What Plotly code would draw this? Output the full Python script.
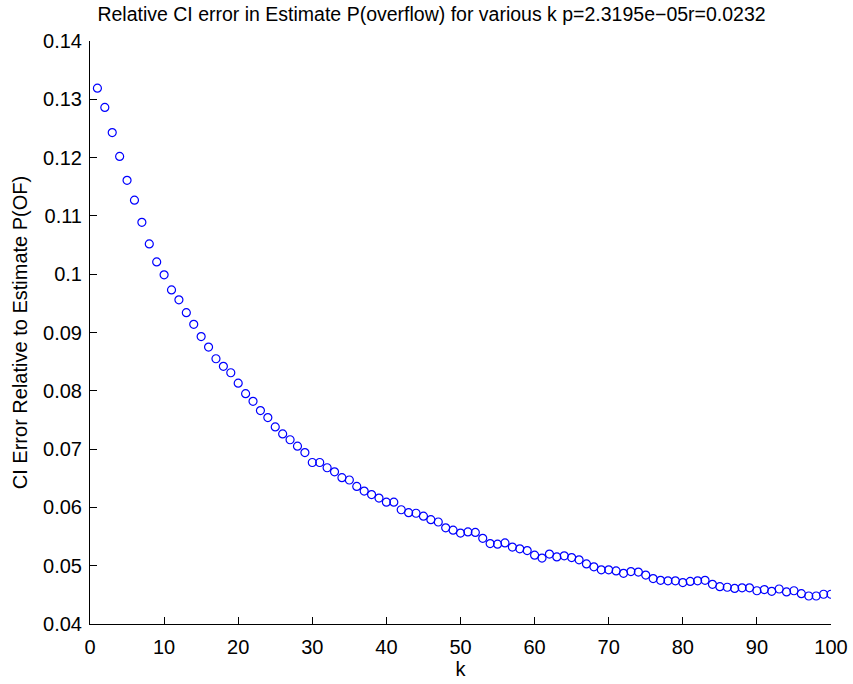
import plotly.graph_objects as go

k = list(range(1, 101))
ci_error = [
    0.1319, 0.1286, 0.1243, 0.1202, 0.1161, 0.1127, 0.1089, 0.1052, 0.1021, 0.0999,
    0.0973, 0.0956, 0.0934, 0.0914, 0.0893, 0.0875, 0.0855, 0.0842, 0.0831, 0.0813,
    0.0795, 0.0782, 0.0766, 0.0754, 0.0738, 0.0726, 0.0716, 0.0705, 0.0694, 0.0677,
    0.0677, 0.0668, 0.0661, 0.0651, 0.0647, 0.0636, 0.0628, 0.0622, 0.0616, 0.0609,
    0.0609, 0.0596, 0.0591, 0.0590, 0.0585, 0.0579, 0.0575, 0.0565, 0.0561, 0.0556,
    0.0558, 0.0557, 0.0547, 0.0538, 0.0537, 0.0539, 0.0532, 0.0529, 0.0526, 0.0518,
    0.0513, 0.0520, 0.0515, 0.0517, 0.0514, 0.0510, 0.0503, 0.0498, 0.0493, 0.0493,
    0.0491, 0.0487, 0.0490, 0.0489, 0.0484, 0.0478, 0.0475, 0.0474, 0.0474, 0.0471,
    0.0473, 0.0474, 0.0475, 0.0468, 0.0464, 0.0463, 0.0461, 0.0462, 0.0462, 0.0457,
    0.0459, 0.0456, 0.0460, 0.0455, 0.0457, 0.0452, 0.0448, 0.0448, 0.0451, 0.0451,
]

x_ticks = [0, 10, 20, 30, 40, 50, 60, 70, 80, 90, 100]
y_ticks = [0.04, 0.05, 0.06, 0.07, 0.08, 0.09, 0.10, 0.11, 0.12, 0.13, 0.14]
y_tick_labels = ["0.04", "0.05", "0.06", "0.07", "0.08", "0.09", "0.1", "0.11", "0.12", "0.13", "0.14"]

FONT = "Liberation Sans, Arial, Helvetica, sans-serif"
FS = 20

fig = go.Figure()
fig.add_trace(go.Scatter(
    x=k, y=ci_error, mode="markers",
    marker=dict(symbol="circle-open", size=8, color="#0000FF", line=dict(width=1.2, color="#0000FF")),
    showlegend=False,
))

fig.update_layout(
    width=853, height=684,
    margin=dict(l=90, r=22, t=41, b=60, pad=0, autoexpand=False),
    paper_bgcolor="white", plot_bgcolor="white",
    font=dict(family=FONT, size=FS, color="black"),
    title=dict(
        text="Relative CI error in Estimate P(overflow) for various k p=2.3195e\u221205r=0.0232",
        x=431.5 / 853, xanchor="center", y=1 - 14 / 684, yanchor="middle",
        font=dict(family=FONT, size=19.5, color="black"),
    ),
    xaxis=dict(
        range=[0, 100], tickvals=x_ticks, ticks="inside", ticklen=7, tickcolor="black",
        showline=True, linecolor="black", linewidth=1, showgrid=False, zeroline=False,
        ticklabelstandoff=5, automargin=False,
        title=dict(text="k", font=dict(family=FONT, size=FS), standoff=4),
        tickfont=dict(family=FONT, size=FS),
    ),
    yaxis=dict(
        range=[0.04, 0.14], tickvals=y_ticks, ticktext=y_tick_labels, ticks="inside", ticklen=7,
        tickcolor="black", showline=True, linecolor="black", linewidth=1, showgrid=False,
        zeroline=False, ticklabelstandoff=3, automargin=False,
        title=dict(text="CI Error Relative to Estimate P(OF)", font=dict(family=FONT, size=FS), standoff=10),
        tickfont=dict(family=FONT, size=FS),
    ),
)

fig.write_html("out.html")
